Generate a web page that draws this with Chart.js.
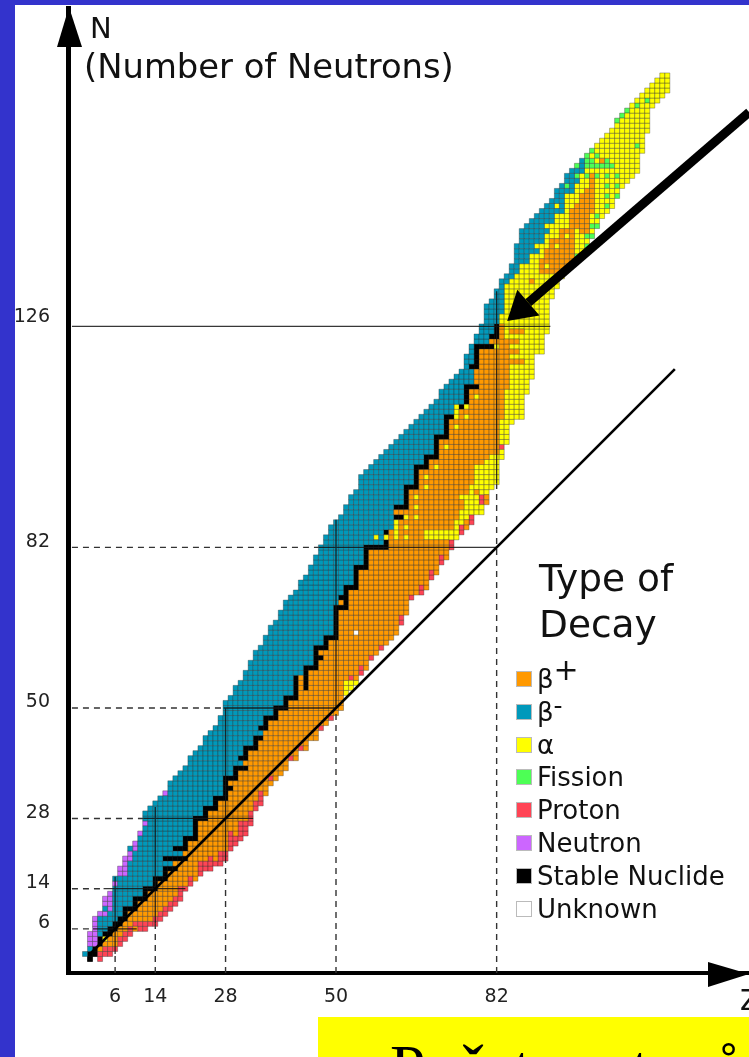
<!DOCTYPE html>
<html>
<head>
<meta charset="utf-8">
<style>
  html, body { margin: 0; padding: 0; width: 749px; height: 1057px; overflow: hidden; background: #3333cc; }
  #panel { position: absolute; left: 15px; top: 5px; width: 734px; height: 1052px; background: #fff; }
  #chart { position: absolute; left: 0; top: 0; }
  .txt { position: absolute; font-family: "DejaVu Sans", sans-serif; color: #111; white-space: nowrap; line-height: 1; }
  #caption { position: absolute; left: 318px; top: 1017px; width: 431px; height: 40px; background: #ffff00; overflow: hidden; }
  #caption span { position: absolute; left: 72px; top: 19px; font: 63.5px/1 "Liberation Serif", serif; color: #000; white-space: nowrap; }
  .swatch { position: absolute; left: 516px; width: 14px; height: 14px; border: 1px solid #bbb; }
  .legendText { font-size: 26px; left: 537px; }
  .legendText sup { font-size: 30px; line-height: 0; vertical-align: 8px; }
  .legendText sub { font-size: 25px; line-height: 0; vertical-align: 7px; }
</style>
</head>
<body>
<div id="panel"></div>
<canvas id="chart" width="749" height="1057"></canvas>
<div class="txt" style="left:90px;top:14px;font-size:29px">N</div>
<div class="txt" style="left:84px;top:50px;font-size:33.8px">(Number of Neutrons)</div>
<div class="txt" style="left:740px;top:987px;font-size:27.5px">Z</div>
<div class="txt" style="left:539px;top:560px;font-size:37.5px">Type of</div>
<div class="txt" style="left:539px;top:606px;font-size:37.5px">Decay</div>
<div id="legend"></div>
<div id="caption"><span>Počet protonů</span></div>

<script src="https://cdn.jsdelivr.net/npm/chart.js@4"></script>
<script>
// ticks
const zTicks = [6, 14, 28, 50, 82];
const nTicks = [6, 14, 28, 50, 82, 126];
const nTickLift = [-0.8, -0.8, -0.8, -0.8, -0.8, 0]; // labels sit closer to their line, except 126

// neutron rich / proton rich edge of every column, index = Z
const topN = [1, 5, 8, 9, 12, 13, 16, 18, 20, 22, 23, 25, 29, 30, 31, 32, 33, 35, 36, 37,
  38, 40, 41, 42, 44, 45, 46, 48, 51, 52, 54, 55, 57, 59, 61, 62, 64, 66, 67, 69,
  71, 72, 73, 75, 76, 78, 80, 82, 84, 86, 87, 88, 90, 92, 93, 96, 97, 98, 99, 100,
  101, 102, 103, 104, 105, 106, 107, 108, 109, 110, 111, 113, 114, 115, 116, 117, 120, 122, 124, 126,
  130, 131, 133, 135, 136, 138, 142, 145, 146, 147, 148, 149, 150, 151, 153, 154, 156, 157, 158, 159,
  160, 161, 162, 163, 164, 165, 167, 168, 169, 170, 171, 172, 173, 174, 175, 176, 176];
const bottomN = [1, 0, 1, 0, 1, 1, 2, 3, 4, 5, 6, 6, 6, 7, 7, 8, 9, 10, 11, 12,
  14, 15, 16, 17, 18, 18, 19, 19, 20, 22, 23, 24, 25, 27, 30, 31, 33, 35, 36, 37,
  38, 40, 40, 42, 42, 44, 44, 46, 47, 48, 49, 50, 53, 54, 55, 57, 58, 60, 61, 62,
  63, 64, 65, 67, 69, 72, 73, 73, 74, 76, 77, 79, 80, 82, 84, 85, 86, 87, 89, 91,
  91, 94, 95, 100, 103, 107, 108, 108, 113, 116, 121, 121, 125, 132, 134, 136, 138, 139, 140, 141,
  142, 145, 146, 148, 149, 150, 152, 154, 155, 156, 157, 161, 165, 170, 171, 172, 173];
// last N of a column that is not beta minus
const lastNonBetaMinus = [0, 1, 3, 4, 5, 6, 7, 8, 10, 10, 12, 12, 14, 14, 16, 16, 18, 18, 20, 20,
  24, 24, 28, 28, 30, 30, 32, 32, 36, 36, 38, 38, 42, 42, 44, 44, 48, 48, 50, 50,
  52, 52, 56, 56, 58, 58, 62, 62, 64, 64, 70, 72, 74, 74, 78, 78, 82, 82, 82, 82,
  85, 85, 90, 90, 94, 94, 98, 98, 100, 100, 104, 104, 108, 108, 110, 110, 114, 114, 122, 122,
  122, 124, 126, 128, 134, 135, 136, 138, 138, 140, 140, 142, 144, 146, 148, 148, 152, 152, 154, 156,
  157, 161, 162, 163, 164, 165, 167, 168, 169, 170, 171, 172, 173, 174, 175, 176, 176];
const alphaFromZ = 85; // heavier columns are alpha unless listed in betaPlusRuns

// stable N values, index = Z
const stableN = [[], [0, 1], [1, 2], [3, 4], [5], [5, 6], [6, 7], [7, 8], [8, 9, 10], [10],
  [10, 11, 12], [12], [12, 13, 14], [14], [14, 15, 16], [16], [16, 17, 18, 20], [18, 20], [18, 20, 22], [20, 22],
  [20, 22, 23, 24], [24], [24, 25, 26, 27, 28], [28], [28, 29, 30], [30], [30, 31, 32], [32], [32, 33, 34, 35, 36], [34, 36],
  [36, 37, 38], [38, 40], [38, 40, 41, 42], [42], [42, 43, 44], [44, 46], [46, 47, 48], [48], [48, 49, 50], [50],
  [50, 51, 52], [52], [52, 53, 54, 55, 56], [], [54, 55, 56, 57, 58], [58], [58, 59, 60, 61, 62], [60, 62], [62, 63, 64], [64],
  [64, 65, 66, 67, 68, 69, 70], [70, 72], [70, 71, 72, 73, 74], [74], [74, 75, 76, 77, 78], [78], [78, 79, 80, 81, 82], [82], [82], [82],
  [82, 83, 85], [], [88, 90], [88, 90], [90, 91, 92, 93, 94], [94], [94, 95, 96, 97, 98], [98], [98, 99, 100], [100],
  [100, 101, 102, 103, 104], [104], [104, 105, 106, 107, 108], [108], [], [110], [111, 112, 113, 114], [114, 118], [114, 118, 119, 120, 121, 122], [122],
  [122], [122, 124], [124, 125, 126]];

// [Z, first N, last N]
const alphaRuns = [[4, 4, 4], [52, 53, 55], [53, 54, 55], [54, 55, 55],
  [58, 84, 84], [60, 84, 84], [62, 84, 87], [64, 84, 84], [64, 86, 86], [64, 88, 88], [66, 88, 88], [66, 90, 90], [66, 92, 92],
  [68, 84, 85], [69, 84, 85], [70, 84, 85], [71, 84, 85], [72, 84, 85], [73, 84, 85], [74, 84, 87],
  [68, 94, 94], [68, 96, 96], [70, 98, 98], [72, 102, 102], [74, 106, 106], [74, 108, 110], [76, 108, 108], [76, 110, 110], [78, 112, 112],
  [75, 87, 89], [75, 92, 92], [76, 88, 92], [77, 89, 94], [78, 89, 92], [78, 94, 98], [79, 89, 90], [79, 93, 98], [80, 93, 99], [81, 94, 100], [82, 95, 100], [82, 122, 122],
  [83, 100, 107], [83, 127, 128], [84, 103, 113], [84, 124, 134]];
const betaPlusRuns = [[85, 119, 119], [85, 121, 121], [85, 123, 123], [85, 125, 125], [86, 119, 119], [86, 121, 121], [86, 123, 123], [86, 125, 125], [87, 119, 119], [87, 125, 125],
  [89, 135, 135], [91, 137, 139], [92, 137, 137], [92, 139, 141], [93, 137, 143], [94, 137, 141], [94, 143, 143],
  [95, 138, 145], [96, 138, 145], [97, 139, 149], [98, 146, 150], [99, 145, 152], [100, 144, 153], [101, 149, 156], [103, 159, 159]];
const alphaDots = [[86, 136, 136], [88, 138, 138], [90, 142, 142], [92, 138, 138], [92, 146, 146], [94, 142, 142], [94, 150, 150], [96, 144, 144]];
const protonRuns = [[3, 0, 1], [4, 1, 2], [5, 1, 2], [6, 2, 2], [7, 3, 4], [8, 4, 5], [9, 5, 6], [10, 7, 7], [11, 6, 7], [12, 6, 7], [13, 7, 7], [14, 7, 8],
  [15, 8, 9], [16, 9, 10], [17, 10, 11], [18, 11, 12], [19, 12, 14], [20, 14, 14], [21, 15, 16], [23, 17, 19], [24, 18, 19], [25, 18, 20], [26, 19, 19], [27, 19, 21], [28, 20, 21],
  [29, 22, 25], [30, 23, 24], [31, 24, 27], [32, 25, 27], [33, 27, 29], [34, 30, 31], [35, 31, 33],
  [37, 36, 36], [41, 40, 40], [43, 42, 42], [47, 46, 46], [49, 48, 48], [53, 56, 56], [55, 57, 58], [57, 60, 60], [59, 62, 62], [63, 67, 68],
  [65, 72, 72], [67, 73, 74], [69, 76, 77], [71, 79, 80], [73, 82, 83], [75, 85, 86], [77, 87, 88], [79, 91, 92], [83, 102, 102]];
const neutronRuns = [[1, 3, 5], [2, 3, 5], [2, 6, 8], [3, 9, 9], [4, 9, 9], [4, 11, 12], [5, 10, 13], [6, 15, 15], [7, 17, 18], [8, 17, 20], [9, 20, 21], [10, 22, 23], [11, 25, 25], [12, 27, 27], [16, 33, 33]];
const fissionCells = [[112, 171], [110, 170], [108, 169], [107, 168], [106, 167], [110, 162], [101, 161], [102, 160], [100, 160], [98, 158],
  [100, 158], [101, 158], [102, 158], [103, 158], [104, 158], [105, 158], [104, 159], [100, 159], [101, 159],
  [98, 156], [100, 156], [102, 156], [104, 156], [106, 156], [104, 154], [106, 154], [96, 154], [104, 152], [106, 152], [104, 150], [102, 148],
  [101, 146], [102, 146], [100, 144], [101, 144], [100, 142], [98, 140]];
const unknownCells = [[54, 65]];

// decay types, same order as the legend
const decayLabels = ["β+", "β-", "α", "Fission", "Proton", "Neutron", "Stable Nuclide", "Unknown"];
const decayColors = ["#ff9900", "#0099bb", "#ffff00", "#4dff55", "#ff4455", "#cc66ff", "#000000", "#ffffff"];

// magic number guide lines: [magic, where the dashes stop, where the solid part stops]
const magicRows = [[6, 1.6, 10.3], [14, 3.7, 20], [28, 11.6, 33.5], [50, 27.6, 50], [82, 46.5, 82], [126, -2.6, 92.7]];
const magicCols = [[6, 1, 16.4], [14, 7, 30.3], [28, 19.5, 50], [50, 50, 87.5], [82, 94.7, 133]];
const diagonalEnds = [1, 117.5];
const arrowTail = [132.3, 168.7];
const arrowTip = [84.1, 127.1];

// sort every cell into its decay type
const cellType = new Map();
const setCell = (z, n, t) => cellType.set(z + ":" + n, t);
const applyRuns = (runs, t) => runs.forEach(([z, a, b]) => { for (let n = a; n <= b; n++) setCell(z, n, t); });

topN.forEach((top, z) => {
  for (let n = bottomN[z]; n <= top; n++) {
    if (n > lastNonBetaMinus[z]) setCell(z, n, 1);
    else setCell(z, n, z >= alphaFromZ ? 2 : 0);
  }
});
applyRuns(alphaRuns, 2);
applyRuns(betaPlusRuns, 0);
applyRuns(alphaDots, 2);
fissionCells.forEach(([z, n]) => setCell(z, n, 3));
applyRuns(protonRuns, 4);
applyRuns(neutronRuns, 5);
stableN.forEach((list, z) => list.forEach((n) => setCell(z, n, 6)));
unknownCells.forEach(([z, n]) => setCell(z, n, 7));

const cellData = decayLabels.map(() => []);
cellType.forEach((t, key) => {
  const [z, n] = key.split(":").map(Number);
  cellData[t].push({ x: z, y: n });
});

// guide lines, broken with NaN between pieces
const zAxisStart = -2.6, nAxisStart = -2.8;
const dashedPts = [], solidPts = [];
magicRows.forEach(([m, d, s]) => {
  dashedPts.push({ x: zAxisStart, y: m }, { x: d, y: m }, { x: NaN, y: NaN });
  solidPts.push({ x: d, y: m }, { x: s, y: m }, { x: NaN, y: NaN });
});
magicCols.forEach(([m, d, s]) => {
  dashedPts.push({ x: m, y: nAxisStart }, { x: m, y: d }, { x: NaN, y: NaN });
  solidPts.push({ x: m, y: d }, { x: m, y: s }, { x: NaN, y: NaN });
});

const datasets = decayLabels.map((label, i) => ({
  label,
  data: cellData[i],
  order: 5,
  pointStyle: "rect",
  pointRadius: 3.55,
  pointBackgroundColor: decayColors[i],
  pointBorderColor: i === 6 ? "#000" : "rgba(40,40,40,.5)",
  pointBorderWidth: 0.7,
  showLine: false,
}));
datasets.push(
  { label: "magic dashed", data: dashedPts, order: 2, showLine: true, pointRadius: 0, borderColor: "#333", borderWidth: 1.4, borderDash: [6, 5] },
  { label: "magic solid", data: solidPts, order: 2, showLine: true, pointRadius: 0, borderColor: "rgba(20,20,20,.85)", borderWidth: 1.3 },
  { label: "diagonal", data: diagonalEnds.map((v) => ({ x: v, y: v })), order: 1, showLine: true, pointRadius: 0, borderColor: "#000", borderWidth: 2.6 }
);

// arrow heads on the axes and the pointer arrow
const arrowsPlugin = {
  id: "arrows",
  afterDraw(chart) {
    const { ctx, chartArea: a, scales: { x, y } } = chart;
    ctx.save();
    ctx.fillStyle = "#000";
    ctx.beginPath();
    ctx.moveTo(a.left + 1, a.top - 1); ctx.lineTo(a.left - 11, a.top + 39); ctx.lineTo(a.left + 14, a.top + 39);
    ctx.closePath(); ctx.fill();
    ctx.beginPath();
    ctx.moveTo(a.right, a.bottom + 1); ctx.lineTo(a.right - 41, a.bottom - 11); ctx.lineTo(a.right - 41, a.bottom + 14);
    ctx.closePath(); ctx.fill();

    const tx = x.getPixelForValue(arrowTail[0]), ty = y.getPixelForValue(arrowTail[1]);
    const px = x.getPixelForValue(arrowTip[0]), py = y.getPixelForValue(arrowTip[1]);
    const ang = Math.atan2(ty - py, tx - px);
    const bx = px + Math.cos(ang) * 28, by = py + Math.sin(ang) * 28;
    ctx.strokeStyle = "#000";
    ctx.lineWidth = 9;
    ctx.beginPath(); ctx.moveTo(tx, ty); ctx.lineTo(bx, by); ctx.stroke();
    ctx.beginPath();
    ctx.moveTo(px, py);
    ctx.lineTo(bx - Math.sin(ang) * 17, by + Math.cos(ang) * 17);
    ctx.lineTo(bx + Math.sin(ang) * 17, by - Math.cos(ang) * 17);
    ctx.closePath(); ctx.fill();
    ctx.restore();
  },
};

const tickFont = { family: "'DejaVu Sans', sans-serif", size: 19 };
const noScalePadding = (s) => { s.paddingTop = s.paddingBottom = s.paddingLeft = s.paddingRight = 0; };

new Chart(document.getElementById("chart").getContext("2d"), {
  type: "scatter",
  data: { datasets },
  plugins: [arrowsPlugin],
  options: {
    responsive: false,
    animation: false,
    events: [],
    layout: { autoPadding: false, padding: { left: 0, top: 8, right: 0, bottom: 0 } },
    plugins: { legend: { display: false }, tooltip: { enabled: false } },
    scales: {
      x: {
        type: "linear",
        min: -3.386, max: 132.27,
        grid: { display: false, drawTicks: false },
        border: { display: true, color: "#000", width: 4 },
        afterFit: (s) => { s.height = 84; noScalePadding(s); },
        afterBuildTicks: (s) => { s.ticks = zTicks.map((value) => ({ value })); },
        ticks: { autoSkip: false, maxRotation: 0, padding: 13, color: "#222", font: tickFont },
      },
      y: {
        type: "linear",
        min: -2.789, max: 189.44,
        grid: { display: false, drawTicks: false },
        border: { display: true, color: "#000", width: 5 },
        afterFit: (s) => { s.width = 68; noScalePadding(s); },
        afterBuildTicks: (s) => { s.ticks = nTicks.map((v, i) => ({ value: v + nTickLift[i] })); },
        ticks: { autoSkip: false, padding: 18, align: "end", color: "#222", font: tickFont, callback: (v, i) => nTicks[i] },
      },
    },
  },
});

// legend, built from the same labels and colours
const legendBox = document.getElementById("legend");
decayLabels.forEach((label, i) => {
  const top = 671 + i * 32.8;
  const sw = document.createElement("div");
  sw.className = "swatch";
  sw.style.top = top + "px";
  sw.style.background = decayColors[i];
  legendBox.appendChild(sw);
  const t = document.createElement("div");
  t.className = "txt legendText";
  t.style.top = (top - 5) + "px";
  if (label === "β+") t.innerHTML = "β<sup>+</sup>";
  else if (label === "β-") t.innerHTML = "β<sub>-</sub>";
  else t.textContent = label;
  legendBox.appendChild(t);
});
</script>
</body>
</html>
